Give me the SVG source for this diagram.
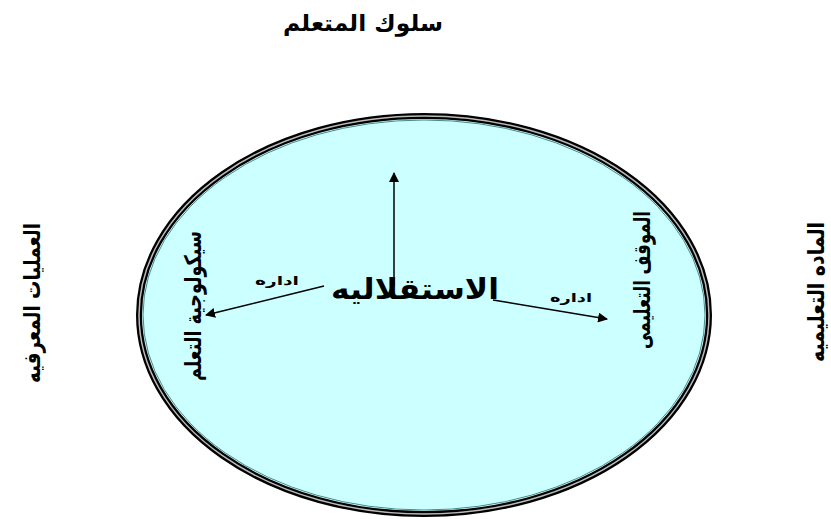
<svg xmlns="http://www.w3.org/2000/svg" width="831" height="519" viewBox="0 0 831 519">
<style>
.t{font-family:"DejaVu Sans",sans-serif;font-weight:bold;fill:#000;text-anchor:middle}
.c{stroke:#000;stroke-width:1.5;fill:none}
</style>
<defs>
<marker id="ah" viewBox="0 0 10 10" refX="9" refY="5" markerWidth="10" markerHeight="10" markerUnits="userSpaceOnUse" orient="auto">
<path d="M0,0 L10,5 L0,10 z" fill="#000"/>
</marker>
</defs>
<rect width="831" height="519" fill="#fff"/>
<g id="circle">
<ellipse cx="424" cy="315" rx="285" ry="199" fill="#ccffff" stroke="#000" stroke-width="6"/>
<ellipse cx="424" cy="315" rx="285" ry="199" fill="none" stroke="#bbb" stroke-width="1.5"/>
<ellipse cx="424" cy="315" rx="281" ry="195" fill="none" stroke="#4a8a8a" stroke-width="1"/>
</g>
<g id="top"><text class="t" x="363" y="31" font-size="23" direction="rtl" textLength="160" lengthAdjust="spacingAndGlyphs">سلوك المتعلم</text></g>
<g id="left-outer"><text class="t" transform="translate(40,303) rotate(-90)" font-size="23" direction="rtl" textLength="160" lengthAdjust="spacingAndGlyphs">العمليات المعرفيه</text></g>
<g id="right-outer"><text class="t" transform="translate(824,292) rotate(-90)" font-size="23" direction="rtl" textLength="140" lengthAdjust="spacingAndGlyphs">الماده التعليميه</text></g>
<g id="left-inner"><text class="t" transform="translate(201,306) rotate(-90)" font-size="23" direction="rtl" textLength="150" lengthAdjust="spacingAndGlyphs">سيكولوجية التعلم</text></g>
<g id="right-inner"><text class="t" transform="translate(650,280) rotate(-90)" font-size="23" direction="rtl" textLength="138" lengthAdjust="spacingAndGlyphs">الموقف التعليمى</text></g>
<g id="center"><text class="t" x="415" y="299" font-size="29" direction="rtl" textLength="168" lengthAdjust="spacingAndGlyphs">الاستقلاليه</text></g>
<g id="connectors">
<line class="c" x1="394" y1="286" x2="394" y2="173" marker-end="url(#ah)"/>
<line class="c" x1="324" y1="286" x2="206" y2="315" marker-end="url(#ah)"/>
<line class="c" x1="493" y1="300" x2="607" y2="319" marker-end="url(#ah)"/>
<text class="t" x="277" y="285" font-size="12" direction="rtl" textLength="44" lengthAdjust="spacingAndGlyphs">اداره</text>
<text class="t" x="571" y="302" font-size="12" direction="rtl" textLength="42" lengthAdjust="spacingAndGlyphs">اداره</text>
</g>
</svg>
